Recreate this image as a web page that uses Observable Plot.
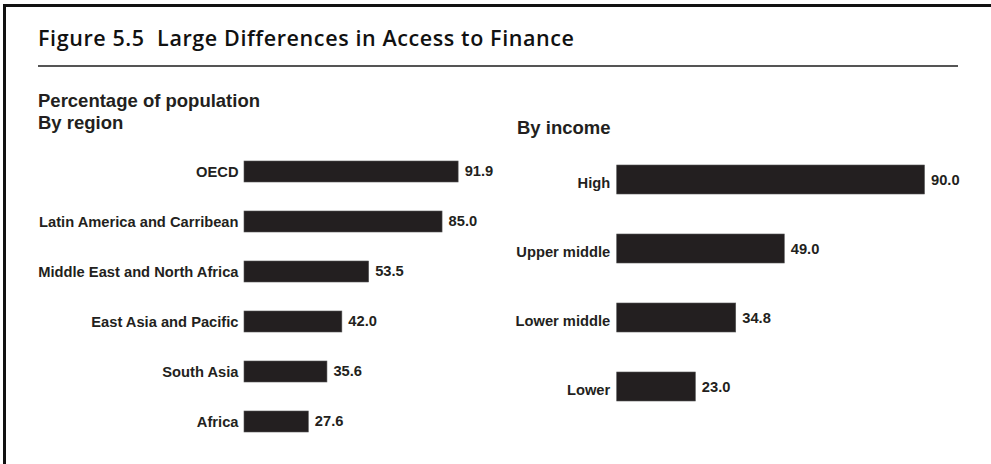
<!DOCTYPE html>
<html>
<head>
<meta charset="utf-8">
<script src="https://cdn.jsdelivr.net/npm/d3@7"></script>
<script src="https://cdn.jsdelivr.net/npm/@observablehq/plot@0.6"></script>
<style>
  html, body { margin: 0; padding: 0; background: #fff; overflow: hidden; }
  #page { position: relative; width: 991px; height: 464px; overflow: hidden; background: #fff; }
  #frameTop { position: absolute; left: 3px; top: 4px; width: 988px; height: 3px; background: #111; }
  #frameLeft { position: absolute; left: 3px; top: 4px; width: 3px; height: 460px; background: #111; }
  #title { position: absolute; left: 38px; top: 27px; font-family: "Open Sans", sans-serif; font-weight: 600; font-size: 21.5px; line-height: 1; color: #111; white-space: nowrap; letter-spacing: 0.6px; }
  #rule { position: absolute; left: 38px; top: 65px; width: 920px; height: 2px; background: #555; }
  .sub { position: absolute; font-family: "Liberation Sans", Arial, sans-serif; font-weight: bold; font-size: 18.5px; color: #231f20; white-space: nowrap; line-height: 1; }
  .chart { position: absolute; top: 0; }
</style>
</head>
<body>
<div id="page">
  <div id="frameTop"></div>
  <div id="frameLeft"></div>
  <div id="title">Figure 5.5&nbsp;&nbsp;Large Differences in Access to Finance</div>
  <div id="rule"></div>
  <div class="sub" style="left:38px; top:92px;">Percentage of population</div>
  <div class="sub" style="left:38px; top:114px;">By region</div>
  <div class="sub" style="left:517px; top:118.5px;">By income</div>
  <div class="chart" id="left" style="left:0px;"></div>
  <div class="chart" id="right" style="left:480px;"></div>
</div>
<script>
const regions = ["OECD", "Latin America and Carribean", "Middle East and North Africa", "East Asia and Pacific", "South Asia", "Africa"];
const regionValues = [91.9, 85.0, 53.5, 42.0, 35.6, 27.6];
const incomes = ["High", "Upper middle", "Lower middle", "Lower"];
const incomeValues = [90.0, 49.0, 34.8, 23.0];

const regionData = regions.map((c, i) => ({category: c, value: regionValues[i]}));
const incomeData = incomes.map((c, i) => ({category: c, value: incomeValues[i]}));

const barColor = "#231f20";
const fontStyle = {fontFamily: "'Liberation Sans', Arial, sans-serif", fontWeight: "bold", fontSize: "14.7px", color: "#231f20", background: "transparent", overflow: "visible"};

const left = Plot.plot({
  width: 507, height: 464,
  marginLeft: 244, marginRight: 30, marginTop: 0, marginBottom: 0,
  x: {domain: [0, 100], axis: null},
  y: {domain: regions, range: [146.5, 446.5], paddingInner: 0.58, paddingOuter: 0.29},
  style: fontStyle,
  marks: [
    Plot.axisY({tickSize: 0, tickPadding: 6, label: null, fill: barColor, fontWeight: "bold"}),
    Plot.barX(regionData, {x: "value", y: "category", fill: barColor, stroke: "#555", strokeWidth: 0.6}),
    Plot.text(regionData, {x: "value", y: "category", text: d => d.value.toFixed(1), textAnchor: "start", dx: 6, dy: -1, fill: barColor, fontWeight: "bold"})
  ]
});
document.getElementById("left").append(left);

const right = Plot.plot({
  width: 500, height: 464,
  marginLeft: 136.7, marginRight: 21.3, marginTop: 0, marginBottom: 0,
  x: {domain: [0, 100], axis: null},
  y: {domain: incomes, range: [143, 422.6], paddingInner: 0.585, paddingOuter: 0.2925},
  style: fontStyle,
  marks: [
    Plot.axisY({tickSize: 0, tickPadding: 7, dy: 3, label: null, fill: barColor, fontWeight: "bold"}),
    Plot.barX(incomeData, {x: "value", y: "category", fill: barColor, stroke: "#555", strokeWidth: 0.6}),
    Plot.text(incomeData, {x: "value", y: "category", text: d => d.value.toFixed(1), textAnchor: "start", dx: 6, dy: 0, fill: barColor, fontWeight: "bold"})
  ]
});
document.getElementById("right").append(right);
</script>
</body>
</html>
